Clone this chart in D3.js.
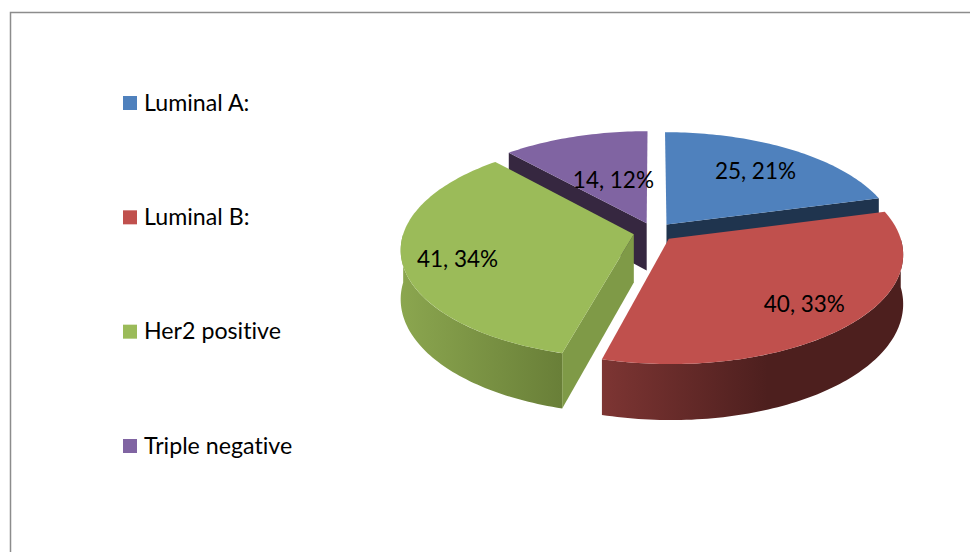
<!DOCTYPE html>
<html>
<head>
<meta charset="utf-8">
<script src="https://cdn.jsdelivr.net/npm/d3@7"></script>
<style>
  html, body { margin: 0; padding: 0; background: #fff; }
  svg { display: block; }
  text { font-family: Lato, "Open Sans", sans-serif; fill: #000; font-variant-ligatures: none; }
</style>
</head>
<body>
<div id="chart"></div>
<script>
var categories = ["Luminal A:", "Luminal B:", "Her2 positive", "Triple negative"];
var counts = [25, 40, 41, 14];
var percents = [21, 33, 34, 12];
var colors = ["#4f81bd", "#c0504d", "#9bbb59", "#8064a2"];
var radialWall = ["#1f344e", "#4f1f1e", "#7f9a47", "#362740"];
var rimLeft = ["#2c4a70", "#7d3533", "#8ba64f", "#4c3b62"];
var rimRight = ["#1f344e", "#4d1f1e", "#697f38", "#362740"];
var labelFit = [0.695, 0.76, 0.765, 0.435];
var labelNudge = [0, 2, 5, -4];

var width = 970, height = 552;

// ground plane -> screen, a bit of perspective so the front of the pie gets bigger
var cx = 654, cy = 232, rx = 230, ry = 106.5, persp = 0.134, depth = 48, explode = 0.09;

var x = d3.scaleLinear().domain([-1, 1]).range([cx - rx, cx + rx]);
var y = d3.scaleLinear().domain([-1, 1]).range([cy + ry, cy - ry]);

function project(u, v, z) {
  var s = 1 / (1 + persp * v);
  return [x(u * s), y(v * s) + (z || 0) * s];
}

var pie = d3.pie().sort(null)(counts);
var line = d3.line();

var svg = d3.select("#chart").append("svg")
  .attr("width", width)
  .attr("height", height);

var defs = svg.append("defs");

svg.append("path")
  .attr("d", "M10.5,552V12.5H970")
  .attr("fill", "none")
  .attr("stroke", "#8c8c8c")
  .attr("stroke-width", 1.5);

//////////// *** SLICES *** ////////////

function sliceGeom(d) {
  var mid = (d.startAngle + d.endAngle) / 2;
  var ox = Math.sin(mid) * explode, oy = Math.cos(mid) * explode;
  return {
    ox: ox,
    oy: oy,
    rim: function(a, r, z) {
      return project(ox + Math.sin(a) * r, oy + Math.cos(a) * r, z);
    }
  };
}

function arcAngles(a0, a1) {
  var n = Math.max(2, Math.ceil((a1 - a0) / 0.02));
  return d3.range(n + 1).map(function(i) { return a0 + (a1 - a0) * i / n; });
}

// back slices first, the front ones overlap them
var drawOrder = [3, 0, 2, 1];

drawOrder.forEach(function(i) {
  var d = pie[i], g = sliceGeom(d);
  var layer = svg.append("g").attr("class", "slice");

  // outer rim
  var a0 = Math.max(d.startAngle, Math.PI / 2);
  var a1 = Math.min(d.endAngle, Math.PI * 1.5);
  if (a1 > a0) {
    var angles = arcAngles(a0, a1);
    var pts = angles.map(function(a) { return g.rim(a, 1, 0); })
      .concat(angles.slice().reverse().map(function(a) { return g.rim(a, 1, depth); }));
    var ext = d3.extent(pts, function(p) { return p[0]; });
    var grad = defs.append("linearGradient")
      .attr("id", "rim" + i)
      .attr("gradientUnits", "userSpaceOnUse")
      .attr("x1", ext[0]).attr("x2", ext[1])
      .attr("y1", 0).attr("y2", 0);
    grad.append("stop").attr("offset", 0).attr("stop-color", rimLeft[i]);
    grad.append("stop").attr("offset", i == 1 ? 0.55 : 1).attr("stop-color", rimRight[i]);
    layer.append("path")
      .attr("d", line(pts) + "Z")
      .attr("fill", "url(#rim" + i + ")");
  }

  // radial walls that face the viewer
  [[d.startAngle, d.startAngle - Math.PI / 2], [d.endAngle, d.endAngle + Math.PI / 2]].forEach(function(w) {
    if (Math.cos(w[1]) > -0.01) return;
    var inner = project(g.ox, g.oy, 0), innerLow = project(g.ox, g.oy, depth);
    layer.append("path")
      .attr("d", line([inner, g.rim(w[0], 1, 0), g.rim(w[0], 1, depth), innerLow]) + "Z")
      .attr("fill", radialWall[i]);
  });

  // top face
  var top = [project(g.ox, g.oy, 0)].concat(arcAngles(d.startAngle, d.endAngle).map(function(a) {
    return g.rim(a, 1, 0);
  }));
  layer.append("path")
    .attr("d", line(top) + "Z")
    .attr("fill", colors[i]);
});

//////////// *** LABELS *** ////////////

svg.selectAll(".data-label")
  .data(pie)
  .enter().append("text")
  .attr("class", "data-label")
  .attr("font-size", 22.5)
  .attr("text-anchor", "middle")
  .attr("dominant-baseline", "central")
  .attr("transform", function(d, i) {
    var mid = (d.startAngle + d.endAngle) / 2;
    var p = sliceGeom(d).rim(mid, labelFit[i], 0);
    return "translate(" + p[0] + "," + (p[1] + labelNudge[i]) + ")";
  })
  .text(function(d, i) { return counts[i] + ", " + percents[i] + "%"; });

//////////// *** LEGEND *** ////////////

var legendY = d3.scalePoint().domain(categories).range([103, 446]);

var legend = svg.selectAll(".legend")
  .data(categories)
  .enter().append("g")
  .attr("class", "legend")
  .attr("transform", function(d) { return "translate(123," + legendY(d) + ")"; });

legend.append("rect")
  .attr("y", -7)
  .attr("width", 14)
  .attr("height", 14)
  .attr("fill", function(d, i) { return colors[i]; });

legend.append("text")
  .attr("x", 21)
  .attr("y", -1.5)
  .attr("font-size", 23.2)
  .attr("dominant-baseline", "central")
  .text(function(d) { return d; });
</script>
</body>
</html>
